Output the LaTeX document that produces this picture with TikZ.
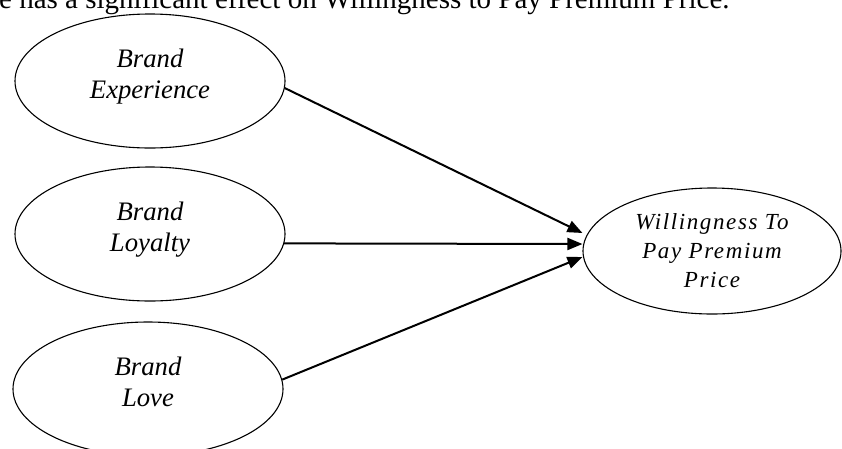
\documentclass[tikz,border=0pt]{standalone}
\usepackage{fontspec}
\setmainfont{Liberation Serif}
\usetikzlibrary{arrows.meta,shapes.geometric}
\tikzset{
  construct/.style={ellipse,draw,line width=1.1pt,inner sep=0pt,
    minimum width=270pt,minimum height=134pt,text depth=15pt,
    font=\fontsize{26.7}{30.7}\selectfont\itshape,align=center},
  outcome/.style={construct,minimum width=258pt,minimum height=126pt,text depth=0pt,
    font=\fontsize{23}{29}\selectfont\itshape\addfontfeature{LetterSpace=7}},
  effect/.style={-{Triangle[length=15pt,width=12pt]},line width=2pt}
}

\begin{document}
\begin{tikzpicture}[x=1pt,y=1pt]
  \useasboundingbox (0,0) rectangle (842,-448);
  \clip (0,0) rectangle (842,-448);
  % sentence cut off by the top edge
  \node[anchor=base west,inner sep=0pt,font=\fontsize{29}{32}\selectfont] (stmt) at (-1,-8)
    {e has a significant effect on Willingness to Pay Premium Price.};
  % constructs
  \node[construct] (exp) at (150,-81) {Brand\\Experience};
  \node[construct] (loy) at (150,-234) {Brand\\Loyalty};
  \node[construct] (love) at (148,-389) {Brand\\Love};
  \node[outcome] (wtp) at (712,-251) {Willingness To\\Pay Premium\\Price};
  % paths
  \draw[effect] (exp.-3) -- ([yshift=18pt]wtp.west);
  \draw[effect] (loy.-4) -- ([yshift=7pt]wtp.west);
  \draw[effect] (love.4) -- ([yshift=-6pt]wtp.west);
\end{tikzpicture}
\end{document}
